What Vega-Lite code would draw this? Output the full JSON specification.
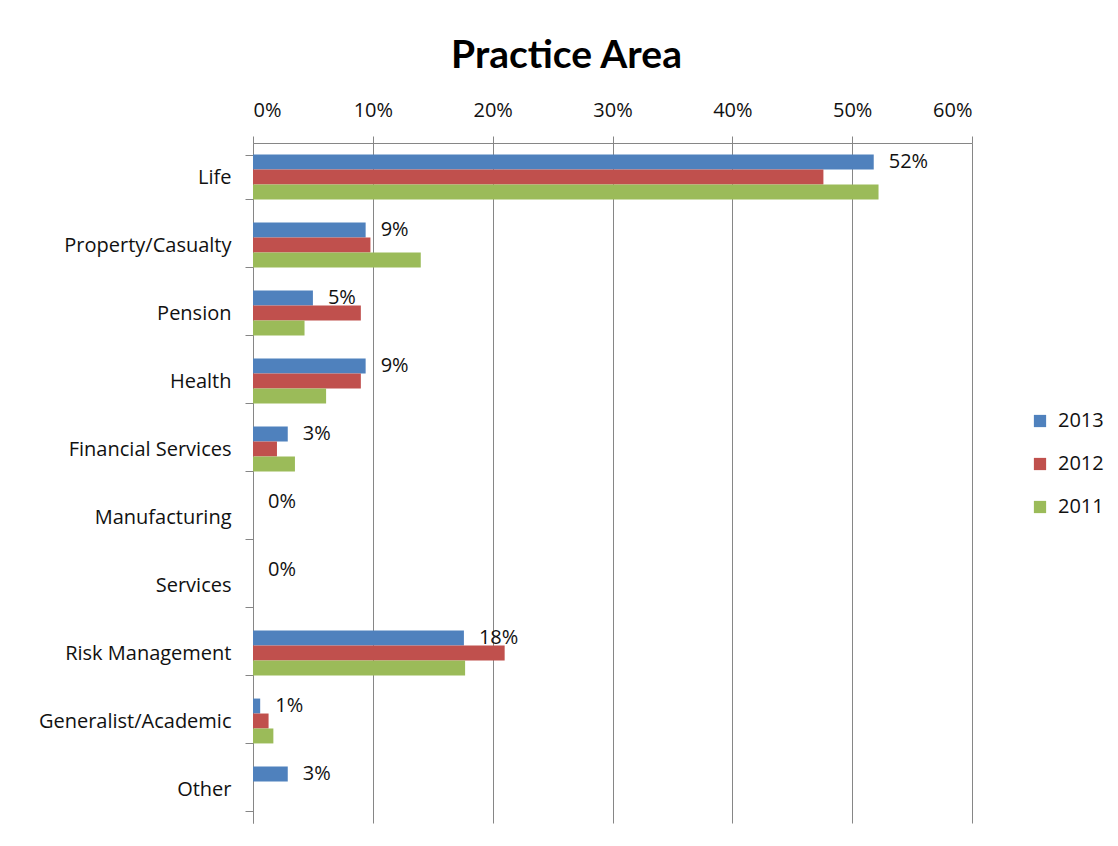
{
  "$schema": "https://vega.github.io/schema/vega-lite/v6.json",
  "width": 719,
  "height": 680,
  "autosize": {"type": "none"},
  "padding": {"left": 253, "top": 143, "right": 146, "bottom": 23},
  "background": "white",
  "title": {"text": "Practice Area", "fontSize": 39, "font": "Lato", "fontWeight": "bold", "color": "#000000", "anchor": "middle", "dx": -46, "offset": 24},
  "config": {
    "font": "Open Sans",
    "view": {"stroke": null}
  },
  "data": {
    "values": [
      {"area": "Life", "year": "2013", "value": 0.518},
      {"area": "Life", "year": "2012", "value": 0.476},
      {"area": "Life", "year": "2011", "value": 0.522},
      {"area": "Property/Casualty", "year": "2013", "value": 0.094},
      {"area": "Property/Casualty", "year": "2012", "value": 0.098},
      {"area": "Property/Casualty", "year": "2011", "value": 0.140},
      {"area": "Pension", "year": "2013", "value": 0.050},
      {"area": "Pension", "year": "2012", "value": 0.090},
      {"area": "Pension", "year": "2011", "value": 0.043},
      {"area": "Health", "year": "2013", "value": 0.094},
      {"area": "Health", "year": "2012", "value": 0.090},
      {"area": "Health", "year": "2011", "value": 0.061},
      {"area": "Financial Services", "year": "2013", "value": 0.029},
      {"area": "Financial Services", "year": "2012", "value": 0.020},
      {"area": "Financial Services", "year": "2011", "value": 0.035},
      {"area": "Manufacturing", "year": "2013", "value": 0.0},
      {"area": "Manufacturing", "year": "2012", "value": 0.0},
      {"area": "Manufacturing", "year": "2011", "value": 0.0},
      {"area": "Services", "year": "2013", "value": 0.0},
      {"area": "Services", "year": "2012", "value": 0.0},
      {"area": "Services", "year": "2011", "value": 0.0},
      {"area": "Risk Management", "year": "2013", "value": 0.176},
      {"area": "Risk Management", "year": "2012", "value": 0.210},
      {"area": "Risk Management", "year": "2011", "value": 0.177},
      {"area": "Generalist/Academic", "year": "2013", "value": 0.006},
      {"area": "Generalist/Academic", "year": "2012", "value": 0.013},
      {"area": "Generalist/Academic", "year": "2011", "value": 0.017},
      {"area": "Other", "year": "2013", "value": 0.029},
      {"area": "Other", "year": "2012", "value": 0.0},
      {"area": "Other", "year": "2011", "value": 0.0}
    ]
  },
  "encoding": {
    "y": {
      "field": "area", "type": "nominal", "sort": null,
      "scale": {"paddingInner": 0.34, "paddingOuter": 0.17},
      "axis": {
        "title": null, "orient": "left", "tickBand": "extent", "tickSize": 8, "tickColor": "#868686",
        "domainColor": "#868686", "labelFontSize": 20, "labelColor": "#111111", "labelPadding": 14,
        "labelFont": "Open Sans", "labelLimit": 400
      }
    },
    "x": {
      "field": "value", "type": "quantitative",
      "scale": {"domain": [0, 0.6], "nice": false},
      "axis": {
        "title": null, "orient": "top", "format": ".0%", "values": [0, 0.1, 0.2, 0.3, 0.4, 0.5, 0.6],
        "grid": true, "gridColor": "#868686", "gridWidth": 1, "tickColor": "#868686", "tickSize": 7,
        "domainColor": "#868686", "labelFontSize": 20, "labelColor": "#111111", "labelPadding": 16,
        "labelFont": "Open Sans"
      }
    }
  },
  "layer": [
    {
      "mark": {"type": "bar", "strokeWidth": 1, "strokeOpacity": 0.5},
      "encoding": {
        "yOffset": {"field": "year", "type": "nominal", "sort": ["2013", "2012", "2011"]},
        "color": {
          "field": "year", "type": "nominal",
          "scale": {"domain": ["2013", "2012", "2011"], "range": ["#4F81BD", "#C0504D", "#9BBB59"]},
          "legend": {
            "title": null, "orient": "none", "legendX": 777, "legendY": 268, "symbolType": "square",
            "symbolSize": 150, "symbolStrokeWidth": 0, "labelFontSize": 20, "labelColor": "#111111",
            "rowPadding": 23, "labelOffset": 8, "labelFont": "Open Sans"
          }
        }
      }
    },
    {
      "transform": [{"filter": "datum.year === '2013'"}],
      "mark": {"type": "text", "align": "left", "baseline": "middle", "dx": 15, "dy": -15, "fontSize": 20, "color": "#111111", "font": "Open Sans"},
      "encoding": {
        "text": {"field": "value", "type": "quantitative", "format": ".0%"}
      }
    }
  ]
}
